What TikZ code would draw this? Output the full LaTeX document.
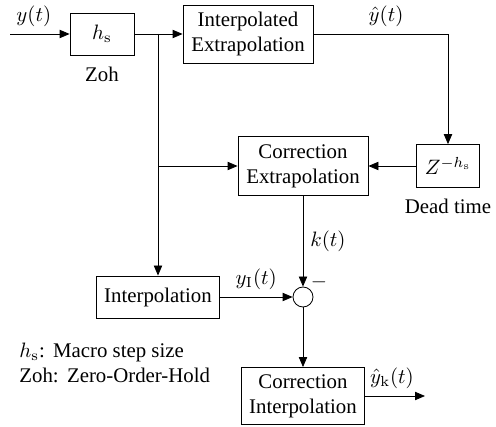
\documentclass[tikz,border=0pt]{standalone}
\usepackage{amsmath}
\usepackage[no-math]{fontspec}
\setmainfont{Liberation Serif}
\usetikzlibrary{arrows.meta}

\begin{document}
\begin{tikzpicture}[x=0.48pt,y=-0.48pt,
    >={Triangle[length=4.8pt,width=4pt]},
    block/.style={draw,align=center,inner sep=2pt},
    sumnode/.style={draw,circle,minimum size=9.6pt,inner sep=0pt}]
    \useasboundingbox (0,0) rectangle (496,427);

    % blocks
    \node[block,minimum width=30.7pt,minimum height=20.2pt] (zoh) at (102,34) {$h_{\mathrm{s}}$};
    \node[block,minimum width=62.4pt,minimum height=27.8pt] (ie) at (248,34) {Interpolated\\Extrapolation};
    \node[block,minimum width=30.2pt,minimum height=20.6pt] (dt) at (448,166) {$Z^{-h_{\mathrm{s}}}$};
    \node[block,minimum width=62.4pt,minimum height=28.3pt] (ce) at (303,166) {Correction\\Extrapolation};
    \node[block,minimum width=59pt,minimum height=20.2pt] (ip) at (158,297) {Interpolation};
    \node[sumnode] (sum) at (303,297) {};
    \node[block,minimum width=59pt,minimum height=27.4pt] (ci) at (303,396) {Correction\\Interpolation};

    \node[below=2pt] (zohlbl) at (zoh.south) {Zoh};
    \node[below=2pt] (dtlbl) at (dt.south) {Dead time};
    \node[anchor=south west,inner sep=0pt] (minus) at (sum.north east) {$-$};

    \coordinate (in) at (10,34);
    \coordinate (j) at (158,34);
    \coordinate (j2) at (158,166);
    \coordinate (c1) at (448,34);
    \coordinate (out) at (425,396);

    % connectors
    \draw[->] (in) -- node[above,pos=0.4]{$y(t)$} (zoh.west);
    \draw[->] (zoh.east) -- (ie.west);
    \draw[->] (j) -- (ip.north);
    \draw[->] (j2) -- (ce.west);
    \draw[->] (ie.east) -- node[above,pos=0.54]{$\hat{y}(t)$} (c1) -- (dt.north);
    \draw[->] (dt.west) -- (ce.east);
    \draw[->] (ce.south) -- node[right]{$k(t)$} (sum.north);
    \draw[->] (ip.east) -- node[above]{$y_{\mathrm{I}}(t)$} (sum.west);
    \draw[->] (sum.south) -- (ci.north);
    \draw[->] (ci.east) -- node[above,pos=0.45]{$\hat{y}_{\mathrm{k}}(t)$} (out);

    \node[anchor=west,align=left] (legend) at (12,363) {$h_{\mathrm{s}}$:\hspace{4pt}Macro step size\\Zoh:\hspace{4pt}Zero-Order-Hold};
\end{tikzpicture}
\end{document}
